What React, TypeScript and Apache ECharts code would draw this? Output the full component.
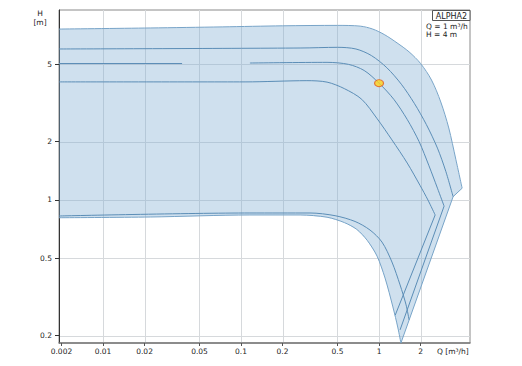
import React, { useEffect, useRef } from "react";
import * as echarts from "echarts";

const log = Math.log10;

// Axis ranges (Q in m³/h, H in m)
const qMin = 0.0048;
const qMax = 4.56;
const hMin = 0.1832;
const hMax = 9.53;

// Tick positions and labels
const xTickQ = [0.005, 0.01, 0.02, 0.05, 0.1, 0.2, 0.5, 1, 2];
const xTickLabels = ["0.002", "0.01", "0.02", "0.05", "0.1", "0.2", "0.5", "1", "2"];
const xGridQ = [0.01, 0.02, 0.05, 0.1, 0.2, 0.5, 1, 2];
const yTickH = [0.2, 0.5, 1, 2, 5];
const yTickLabels = ["0.2", "0.5", "1", "2", "5"];

// Max curve (top boundary of the operating range), up to its right tip
const maxQ = [0.0048, 0.022, 0.073, 0.2, 0.5, 0.73, 0.9, 1.1, 1.35, 1.65, 2.0, 2.4, 2.8, 3.2, 3.6, 4.0];
const maxH = [7.6, 7.7, 7.8, 7.9, 7.94, 7.87, 7.6, 7.1, 6.45, 5.8, 5.05, 4.15, 3.2, 2.35, 1.62, 1.15];
// Right end: tip -> corner -> bottom tip
const limitQ = [4.0, 3.44, 1.44];
const limitH = [1.15, 1.04, 0.183];
// Min curve (bottom boundary)
const minQ = [0.0048, 0.022, 0.116, 0.268, 0.42, 0.56, 0.69, 0.82, 0.967, 1.105, 1.26, 1.37, 1.44];
const minH = [0.81, 0.817, 0.837, 0.837, 0.815, 0.765, 0.705, 0.62, 0.514, 0.396, 0.281, 0.219, 0.183];
// Inner low curve
const lowQ = [0.0048, 0.116, 0.316, 0.48, 0.67, 0.86, 1.05, 1.24, 1.42, 1.57, 1.65];
const lowH = [0.827, 0.857, 0.857, 0.83, 0.775, 0.7, 0.607, 0.479, 0.365, 0.288, 0.241];
// Curve 2
const c2Q = [0.0048, 0.268, 0.5, 0.68, 0.88, 1.14, 1.45, 1.8, 2.2, 2.65, 3.05, 3.44];
const c2H = [6.0, 6.07, 6.12, 6.0, 5.55, 4.8, 3.95, 3.15, 2.45, 1.85, 1.4, 1.04];
// Curve 3 (through duty point)
const c3aQ = [0.0048, 0.0374];
const c3aH = [5.05, 5.05];
const c3Q = [0.116, 0.42, 0.6, 0.78, 1.0, 1.28, 1.6, 1.95, 2.3, 2.65, 2.96];
const c3H = [5.08, 5.12, 5.0, 4.65, 4.0, 3.3, 2.6, 2.0, 1.5, 1.15, 0.93];
const c3DropQ = [2.96, 1.42];
const c3DropH = [0.93, 0.214];
// Curve 4
const c4Q = [0.0048, 0.107, 0.3, 0.42, 0.56, 0.75, 0.97, 1.24, 1.6, 1.98, 2.26, 2.55];
const c4H = [4.06, 4.06, 4.12, 4.05, 3.75, 3.3, 2.62, 2.04, 1.55, 1.19, 1.0, 0.837];
const c4DropQ = [2.55, 1.31];
const c4DropH = [0.837, 0.255];
// Duty point
const dutyQ = [1];
const dutyH = [4];

const FONT = "DejaVu Sans";
const LINE = "#5b8db6";
const OUTLINE = "#78a4c8";

const pts = (qs: number[], hs: number[]) => qs.map((q, i) => [log(q), log(hs[i])]);

const regionPts = [
  ...pts(maxQ, maxH),
  ...pts(limitQ.slice(1), limitH.slice(1)),
  ...pts(minQ.slice(0, -1), minH.slice(0, -1)).reverse(),
];

const lineSeries = (data: number[][], color: string, smooth: number | boolean) => ({
  type: "line",
  data,
  showSymbol: false,
  symbol: "none",
  smooth,
  silent: true,
  lineStyle: { color, width: 1 },
  z: 3,
  clip: true,
});

export default function App() {
  const ref = useRef<HTMLDivElement>(null);
  useEffect(() => {
    document.body.style.margin = "0";
    if (!ref.current) return;
    const chart = echarts.init(ref.current, undefined, { renderer: "svg" });
    const xFmt = (v: number) => {
      let best = 0;
      xTickQ.forEach((q, i) => {
        if (Math.abs(log(q) - v) < Math.abs(log(xTickQ[best]) - v)) best = i;
      });
      return xTickLabels[best];
    };
    const yFmt = (v: number) => {
      let best = 0;
      yTickH.forEach((h, i) => {
        if (Math.abs(log(h) - v) < Math.abs(log(yTickH[best]) - v)) best = i;
      });
      return yTickLabels[best];
    };
    chart.setOption({
      animation: false,
      backgroundColor: "#ffffff",
      grid: {
        left: 59,
        top: 10,
        width: 411,
        height: 333,
        show: true,
        borderColor: "#8a8a8a",
        borderWidth: 1,
        backgroundColor: "transparent",
      },
      xAxis: {
        type: "value",
        min: log(qMin),
        max: log(qMax),
        axisLine: { show: true, onZero: false, lineStyle: { color: "#7a7a7a", width: 1.5 } },
        axisTick: { show: true, length: 3, customValues: xTickQ.map(log), lineStyle: { color: "#555" } },
        axisLabel: {
          customValues: xTickQ.map(log),
          formatter: xFmt,
          fontSize: 7.5,
          fontFamily: FONT,
          color: "#222",
          margin: 4,
        },
        splitLine: { show: false },
      },
      yAxis: {
        type: "value",
        min: log(hMin),
        max: log(hMax),
        axisLine: { show: true, onZero: false, lineStyle: { color: "#333", width: 1 } },
        axisTick: { show: true, length: 4, customValues: yTickH.map(log), lineStyle: { color: "#333" } },
        axisLabel: {
          customValues: yTickH.map(log),
          formatter: yFmt,
          fontSize: 7.5,
          fontFamily: FONT,
          color: "#222",
          margin: 7,
        },
        splitLine: { show: false },
      },
      series: [
        {
          type: "custom",
          coordinateSystem: "cartesian2d",
          silent: true,
          z: 0,
          data: [[log(xGridQ[0]), log(yTickH[0])]],
          renderItem: (_p: any, api: any) => {
            const children: any[] = [];
            xGridQ.forEach((q) => {
              const a = api.coord([log(q), log(hMin)]);
              const b = api.coord([log(q), log(hMax)]);
              const x = Math.round(a[0]) + 0.5;
              children.push({
                type: "line",
                shape: { x1: x, y1: a[1], x2: x, y2: b[1] },
                style: { stroke: "#d6d9dc", lineWidth: 1 },
              });
            });
            yTickH.forEach((h) => {
              const a = api.coord([log(qMin), log(h)]);
              const b = api.coord([log(qMax), log(h)]);
              const y = Math.round(a[1]) + 0.5;
              children.push({
                type: "line",
                shape: { x1: a[0], y1: y, x2: b[0], y2: y },
                style: { stroke: "#d6d9dc", lineWidth: 1 },
              });
            });
            return { type: "group", children };
          },
        },
        {
          type: "custom",
          coordinateSystem: "cartesian2d",
          silent: true,
          z: 1,
          clip: true,
          data: [regionPts[0]],
          renderItem: (_p: any, api: any) => ({
            type: "polygon",
            shape: { points: regionPts.map((p) => api.coord(p)) },
            style: { fill: "rgba(128,174,210,0.38)", stroke: "none" },
          }),
        },
        lineSeries(pts(maxQ, maxH), OUTLINE, 0.3),
        lineSeries(pts(limitQ, limitH), OUTLINE, false),
        lineSeries(pts(minQ, minH), OUTLINE, 0.3),
        lineSeries(pts(lowQ, lowH), LINE, 0.3),
        lineSeries(pts(c2Q, c2H), LINE, 0.3),
        lineSeries(pts(c3aQ, c3aH), LINE, false),
        lineSeries(pts(c3Q, c3H), LINE, 0.3),
        lineSeries(pts(c3DropQ, c3DropH), LINE, false),
        lineSeries(pts(c4Q, c4H), LINE, 0.3),
        lineSeries(pts(c4DropQ, c4DropH), LINE, false),
        {
          type: "scatter",
          data: pts(dutyQ, dutyH),
          symbol: "circle",
          symbolSize: [9, 7],
          silent: true,
          z: 5,
          itemStyle: { color: "#ffd21a", borderColor: "#e0561e", borderWidth: 1 },
        },
      ],
      graphic: [
        {
          type: "rect",
          z: 100,
          shape: { x: 432.5, y: 10.5, width: 37.5, height: 10 },
          style: { fill: "#ffffff", stroke: "#555", lineWidth: 1 },
        },
        {
          type: "text",
          z: 101,
          x: 451.5,
          y: 16,
          style: { text: "ALPHA2", fill: "#222", fontSize: 8, fontFamily: FONT, align: "center", verticalAlign: "middle" },
        },
        {
          type: "text",
          z: 101,
          x: 426,
          y: 26.5,
          style: { text: "Q = 1 m³/h", fill: "#222", fontSize: 7.5, fontFamily: FONT, align: "left", verticalAlign: "middle" },
        },
        {
          type: "text",
          z: 101,
          x: 426,
          y: 34.5,
          style: { text: "H = 4 m", fill: "#222", fontSize: 7.5, fontFamily: FONT, align: "left", verticalAlign: "middle" },
        },
        {
          type: "text",
          z: 101,
          x: 40,
          y: 13.5,
          style: { text: "H", fill: "#222", fontSize: 7.5, fontFamily: FONT, align: "center", verticalAlign: "middle" },
        },
        {
          type: "text",
          z: 101,
          x: 40,
          y: 22,
          style: { text: "[m]", fill: "#222", fontSize: 7.5, fontFamily: FONT, align: "center", verticalAlign: "middle" },
        },
        {
          type: "text",
          z: 101,
          x: 437,
          y: 351,
          style: { text: "Q [m³/h]", fill: "#222", fontSize: 7.5, fontFamily: FONT, align: "left", verticalAlign: "middle" },
        },
      ],
    });
    return () => chart.dispose();
  }, []);
  return <div ref={ref} style={{ width: 522, height: 366 }} />;
}
